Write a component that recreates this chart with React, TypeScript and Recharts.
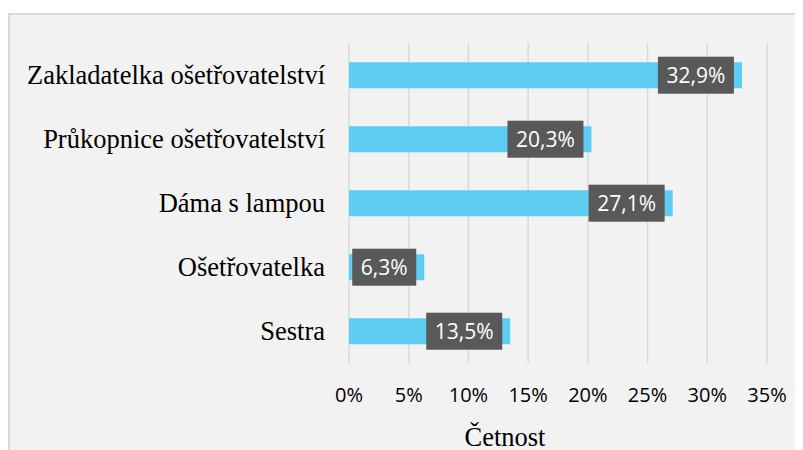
import React from "react";
import { BarChart, Bar, XAxis, YAxis, CartesianGrid, LabelList, Label } from "recharts";

const categories = [
  "Zakladatelka ošetřovatelství",
  "Průkopnice ošetřovatelství",
  "Dáma s lampou",
  "Ošetřovatelka",
  "Sestra",
];
const values = [0.329, 0.203, 0.271, 0.063, 0.135];
const xTicks = [0, 0.05, 0.1, 0.15, 0.2, 0.25, 0.3, 0.35];
const axisTitle = "Četnost";

const data = categories.map((c, i) => ({ name: c, value: values[i] }));

const fmtPct = (v: number) => (v * 100).toFixed(1).replace(".", ",") + "%";
const fmtTick = (v: number) => Math.round(v * 100) + "%";

const renderValueLabel = (props: any) => {
  const { x, y, width, height, value } = props;
  const text = fmtPct(value);
  const bw = text.length * 12 + 16;
  const bh = 37;
  const right = x + width - 8;
  const cy = y + height / 2;
  return (
    <g>
      <rect x={right - bw} y={cy - bh / 2} width={bw} height={bh} fill="#595959" />
      <text
        x={right - bw / 2}
        y={cy}
        fill="#ffffff"
        textAnchor="middle"
        dominantBaseline="central"
        fontFamily="'Open Sans', sans-serif"
        fontSize={21}
      >
        {text}
      </text>
    </g>
  );
};

export default function App() {
  return (
    <div style={{ position: "relative", width: 795, height: 442, overflow: "hidden" }}>
      <div
        style={{
          position: "absolute",
          left: 0,
          top: 5,
          width: 820,
          height: 460,
          background: "#f2f2f2",
          border: "2px solid #d9d9d9",
          boxSizing: "border-box",
        }}
      />
      <div style={{ position: "absolute", left: 0, top: 0 }}>
        <BarChart
          width={795}
          height={442}
          data={data}
          layout="vertical"
          margin={{ top: 35, right: 36, bottom: 0, left: 0 }}
          barCategoryGap="30%"
        >
          <CartesianGrid horizontal={false} stroke="#d9d9d9" strokeWidth={1.5} />
          <XAxis
            type="number"
            domain={[0, 0.35]}
            ticks={xTicks}
            tickFormatter={fmtTick}
            axisLine={false}
            tickLine={false}
            tickSize={0}
            tickMargin={25}
            height={87}
            tick={{ fill: "#000000", fontSize: 20, fontFamily: "'Open Sans', sans-serif" }}
            interval={0}
          >
            <Label
              content={(p: any) => {
                const vb = p.viewBox;
                return (
                  <text
                    x={vb.x + vb.width / 2 - 53}
                    y={438}
                    textAnchor="middle"
                    fill="#000000"
                    fontFamily="'Liberation Serif', 'Times New Roman', serif"
                    fontSize={26.5}
                  >
                    {axisTitle}
                  </text>
                );
              }}
            />
          </XAxis>
          <YAxis
            type="category"
            dataKey="name"
            width={341}
            axisLine={false}
            tickLine={false}
            tickSize={0}
            tickMargin={24}
            interval={0}
            tick={{ fill: "#000000", fontSize: 26.5, fontFamily: "'Liberation Serif', 'Times New Roman', serif" }}
          />
          <Bar dataKey="value" fill="#5ecdf2" isAnimationActive={false}>
            <LabelList dataKey="value" content={renderValueLabel} />
          </Bar>
        </BarChart>
      </div>
    </div>
  );
}
